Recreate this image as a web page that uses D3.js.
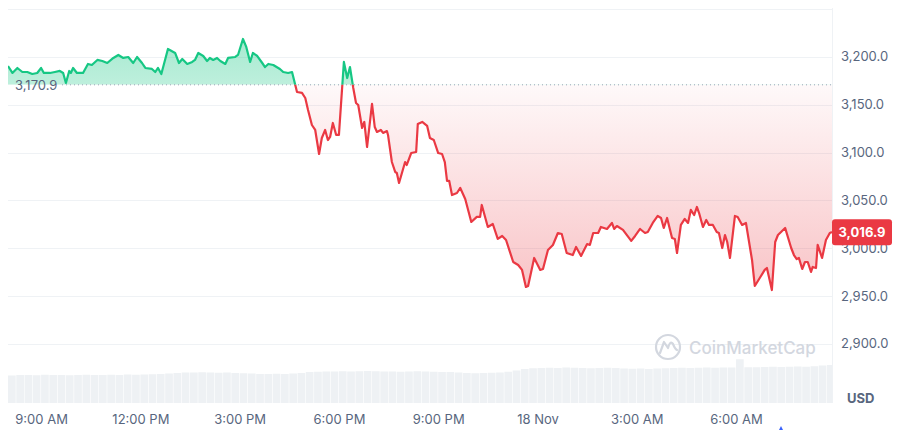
<!DOCTYPE html>
<html>
<head>
<meta charset="utf-8">
<script src="https://cdn.jsdelivr.net/npm/d3@7"></script>
<style>
  body { margin: 0; background: #fff; }
  text { font-family: Inter, "Noto Sans", sans-serif; }
</style>
</head>
<body>
<svg id="chart" width="900" height="430"></svg>
<script>
// price samples: minutes after 00:00 on 17 Nov, and price in USD
const minutes = [480,488,497,506,515,524,533,540,545,556,565,574,580,585,591,594,598,605,616,625,
  632,642,651,660,671,680,689,698,707,714,723,729,741,747,752,758,770,783,790,796,
  805,814,819,825,834,841,846,852,859,865,874,879,892,897,906,912,919,924,932,941,
  946,952,961,973,979,988,995,1004,1013,1019,1024,1031,1037,1044,1049,1055,1060,1064,1069,1075,
  1080,1089,1095,1100,1106,1111,1115,1122,1126,1131,1140,1145,1149,1156,1160,1167,1169,1176,1182,1185,
  1189,1200,1203,1211,1220,1223,1231,1240,1245,1252,1260,1267,1272,1276,1280,1285,1294,1300,1309,1320,
  1330,1336,1339,1350,1359,1368,1376,1383,1396,1405,1412,1419,1423,1434,1445,1450,1459,1468,1477,1484,
  1493,1504,1510,1519,1530,1535,1541,1550,1555,1566,1575,1579,1584,1595,1610,1617,1626,1635,1640,1649,
  1658,1664,1669,1675,1684,1689,1693,1700,1707,1713,1718,1724,1729,1733,1740,1746,1751,1758,1765,1769,
  1775,1780,1784,1789,1798,1803,1811,1818,1829,1834,1843,1852,1856,1865,1871,1876,1889,1900,1905,1910,
  1914,1920,1925,1930,1936,1939,1945,1948,1956,1963,1970,1974];
const prices = [3190.6,3183.3,3188.5,3184.3,3184.3,3182.2,3183.3,3188.5,3183.3,3183.3,3184.3,3185.4,3183.3,3172.8,3185.4,3183.3,3188.5,3183.3,3183.3,3192.7,
  3191.6,3196.9,3195.8,3193.7,3199.0,3202.1,3199.0,3200.0,3193.7,3200.0,3193.7,3188.5,3187.5,3184.3,3188.5,3182.2,3208.4,3204.2,3193.7,3197.9,
  3192.7,3194.8,3196.9,3204.2,3201.0,3195.8,3199.0,3196.9,3199.0,3195.8,3192.7,3199.0,3200.0,3202.1,3218.8,3210.5,3194.8,3204.2,3201.0,3193.7,
  3189.5,3192.7,3191.6,3187.5,3184.3,3183.3,3184.3,3163.4,3162.4,3157.1,3144.6,3128.9,3123.7,3098.6,3115.3,3123.7,3113.2,3116.4,3131.0,3118.5,
  3118.5,3194.8,3178.0,3189.5,3167.6,3151.9,3149.8,3125.8,3132.1,3105.9,3150.9,3126.8,3121.6,3123.7,3120.6,3122.6,3118.5,3090.2,3079.8,3078.7,
  3068.3,3090.2,3087.1,3099.6,3100.7,3130.0,3132.1,3127.9,3115.3,3113.2,3099.6,3098.6,3090.2,3070.4,3070.4,3055.7,3057.8,3063.1,3051.6,3027.5,
  3032.8,3032.8,3045.3,3022.3,3025.4,3009.8,3012.9,3008.7,2985.7,2982.6,2977.4,2959.6,2960.6,2989.9,2977.4,2978.4,2998.3,3003.5,3016.0,3015.0,
  2995.1,2993.0,3001.4,2992.0,3004.5,3003.5,3016.0,3016.0,3022.3,3020.2,3026.5,3020.2,3023.3,3019.2,3007.7,3012.9,3020.2,3016.0,3017.1,3026.5,
  3033.8,3031.7,3021.3,3031.7,3010.8,3009.8,2995.1,3024.4,3030.7,3026.5,3040.1,3034.8,3043.2,3036.9,3022.3,3029.6,3024.4,3024.4,3017.1,3016.0,
  3000.3,3013.9,3006.6,2989.9,3033.8,3032.8,3024.4,3026.5,2987.8,2960.6,2969.0,2977.4,2979.4,2956.4,3006.6,3013.9,3021.3,3000.3,2993.0,2988.8,
  2989.9,2978.4,2985.7,2985.7,2975.3,2980.5,2979.4,3003.5,2989.9,3008.7,3016.0,3016.9];

// 15-minute volume, billions USD, starting 08:00 on 17 Nov
const volumes = [1.10,1.12,1.12,1.11,1.13,1.12,1.12,1.11,1.12,1.13,1.12,1.12,1.13,1.12,1.14,1.13,1.14,1.15,1.16,1.18,
  1.20,1.22,1.22,1.23,1.22,1.21,1.22,1.20,1.19,1.18,
  1.16,1.16,1.17,1.16,1.18,1.20,
  1.24,1.25,1.26,1.26,1.27,1.26,1.27,1.28,1.27,1.26,1.26,1.25,1.26,1.27,1.26,1.25,1.24,1.24,1.22,
  1.20,1.19,1.20,1.21,1.22,1.25,1.30,1.36,
  1.39,1.40,1.41,1.40,1.42,1.41,1.40,1.39,1.40,1.41,1.40,1.38,1.37,1.38,1.36,1.38,1.39,1.40,1.41,1.40,1.41,1.42,1.41,1.42,
  1.42,1.75,
  1.43,1.43,1.44,1.45,1.44,1.45,1.46,1.45,1.47,1.50,1.52];
const volStart = 480, volStep = 15;

const openPrice = 3170.9;
const lastPrice = 3016.9;
const priceTicks = [2900, 2950, 3000, 3050, 3100, 3150, 3200];
const gridOnly = [3250];

const W = 900, H = 430;
const pLeft = 8, pRight = 832, pTop = 8, pBottom = 403;
const green = "#16c784", red = "#ea3943", grey = "#58667e", gridC = "#eff2f5";

const toDate = m => new Date(2024, 10, 17, 0, m);
const data = minutes.map((m, i) => ({ t: toDate(m), v: prices[i] }));

const x = d3.scaleTime()
  .domain([toDate(480), toDate(1974)])
  .range([pLeft, pRight]);
const y = d3.scaleLinear()
  .domain([2838.3, 3251.2])
  .range([pBottom, pTop]);
const yv = d3.scaleLinear()
  .domain([0, 2.4])
  .range([pBottom, pBottom - 60]);

const svg = d3.select("#chart");
const defs = svg.append("defs");
const yBase = y(openPrice);

// clip regions above / below the opening price
defs.append("clipPath").attr("id", "clipUp")
  .append("rect").attr("x", pLeft).attr("y", 0).attr("width", pRight - pLeft).attr("height", yBase);
defs.append("clipPath").attr("id", "clipDown")
  .append("rect").attr("x", pLeft).attr("y", yBase).attr("width", pRight - pLeft).attr("height", H - yBase);
defs.append("clipPath").attr("id", "clipPlot")
  .append("rect").attr("x", pLeft).attr("y", pTop).attr("width", pRight - pLeft).attr("height", pBottom - pTop);

const gUp = defs.append("linearGradient").attr("id", "gUp")
  .attr("gradientUnits", "userSpaceOnUse")
  .attr("x1", 0).attr("x2", 0).attr("y1", y(d3.max(prices))).attr("y2", yBase);
gUp.append("stop").attr("offset", 0).attr("stop-color", green).attr("stop-opacity", 0.38);
gUp.append("stop").attr("offset", 1).attr("stop-color", green).attr("stop-opacity", 0.28);

const gDown = defs.append("linearGradient").attr("id", "gDown")
  .attr("gradientUnits", "userSpaceOnUse")
  .attr("x1", 0).attr("x2", 0).attr("y1", yBase).attr("y2", y(d3.min(prices)));
gDown.append("stop").attr("offset", 0).attr("stop-color", red).attr("stop-opacity", 0.03);
gDown.append("stop").attr("offset", 1).attr("stop-color", red).attr("stop-opacity", 0.3);

// grid
const grid = svg.append("g");
grid.selectAll("line").data(priceTicks.concat(gridOnly)).join("line")
  .attr("x1", pLeft).attr("x2", pRight)
  .attr("y1", d => Math.round(y(d)) + 0.5).attr("y2", d => Math.round(y(d)) + 0.5)
  .attr("stroke", gridC).attr("stroke-width", 1);
grid.append("line")
  .attr("x1", pRight + 0.5).attr("x2", pRight + 0.5).attr("y1", pTop).attr("y2", pBottom)
  .attr("stroke", gridC);

// volume bars
const vol = volumes.map((v, i) => ({ t: toDate(volStart + volStep * i), v }));
const bw = x(toDate(volStart + volStep)) - x(toDate(volStart));
svg.append("g").attr("clip-path", "url(#clipPlot)")
  .selectAll("rect").data(vol).join("rect")
  .attr("x", d => x(d.t))
  .attr("width", bw - 0.6)
  .attr("y", d => yv(d.v))
  .attr("height", d => pBottom - yv(d.v))
  .attr("fill", "#eef1f4");

// watermark
const wm = svg.append("g").attr("fill", "none").attr("stroke", "#d3d7df");
wm.append("circle").attr("cx", 668).attr("cy", 347).attr("r", 12).attr("stroke-width", 2.2);
wm.append("path")
  .attr("d", "M660,353 L664,342 Q668,348 668,348 Q670,340 673,344 Q675,349 677,350")
  .attr("stroke-width", 2.2).attr("stroke-linecap", "round").attr("stroke-linejoin", "round");
svg.append("text").attr("x", 689).attr("y", 354)
  .attr("font-size", 17).attr("font-weight", 500).attr("fill", "#d3d7df")
  .text("CoinMarketCap");

// fills
const area = d3.area().x(d => x(d.t)).y0(yBase).y1(d => y(d.v));
svg.append("path").datum(data).attr("d", area)
  .attr("fill", "url(#gUp)").attr("clip-path", "url(#clipUp)");
svg.append("path").datum(data).attr("d", area)
  .attr("fill", "url(#gDown)").attr("clip-path", "url(#clipDown)");

// opening price reference
svg.append("line")
  .attr("x1", 62).attr("x2", pRight).attr("y1", yBase).attr("y2", yBase)
  .attr("stroke", "#9aa4b5").attr("stroke-width", 1).attr("stroke-dasharray", "1,3");
svg.append("text").attr("x", 15).attr("y", yBase + 5)
  .attr("font-size", 13).attr("fill", grey)
  .text(d3.format(",.1f")(openPrice));

// price line
const line = d3.line().x(d => x(d.t)).y(d => y(d.v));
svg.append("path").datum(data).attr("d", line)
  .attr("fill", "none").attr("stroke", green).attr("stroke-width", 2.2)
  .attr("stroke-linejoin", "round").attr("clip-path", "url(#clipUp)");
svg.append("path").datum(data).attr("d", line)
  .attr("fill", "none").attr("stroke", red).attr("stroke-width", 2.2)
  .attr("stroke-linejoin", "round").attr("clip-path", "url(#clipDown)");

// right axis
const ya = svg.append("g").attr("transform", `translate(${pRight + 9},0)`);
ya.selectAll("text").data(priceTicks).join("text")
  .attr("y", d => y(d) + 4.5)
  .attr("font-size", 13).attr("fill", grey)
  .text(d3.format(",.1f"));
svg.append("text").attr("x", 847).attr("y", 403)
  .attr("font-size", 13).attr("font-weight", 700).attr("fill", grey)
  .text("USD");

// last price badge
const yl = y(lastPrice);
svg.append("rect").attr("x", pRight).attr("y", yl - 13).attr("width", 60).attr("height", 26)
  .attr("rx", 3).attr("fill", red);
svg.append("text").attr("x", pRight + 30).attr("y", yl + 4.5)
  .attr("text-anchor", "middle").attr("font-size", 13).attr("font-weight", 700).attr("fill", "#fff")
  .text(d3.format(",.1f")(lastPrice));

// time axis
const fmt = d => d.getHours() === 0 ? d3.timeFormat("%-d %b")(d) : d3.timeFormat("%-I:%M %p")(d);
const xa = svg.append("g").attr("transform", `translate(0,${pBottom})`)
  .call(d3.axisBottom(x).ticks(d3.timeHour.every(3)).tickFormat(fmt).tickSize(0).tickPadding(12));
xa.select(".domain").remove();
xa.selectAll("text").attr("font-size", 13).attr("fill", grey)
  .attr("font-family", "Inter, 'Noto Sans', sans-serif");

// small event marker under the axis
svg.append("path").attr("d", "M779,430 L781,426 L783,430 Z").attr("fill", "#3861fb");
</script>
</body>
</html>
